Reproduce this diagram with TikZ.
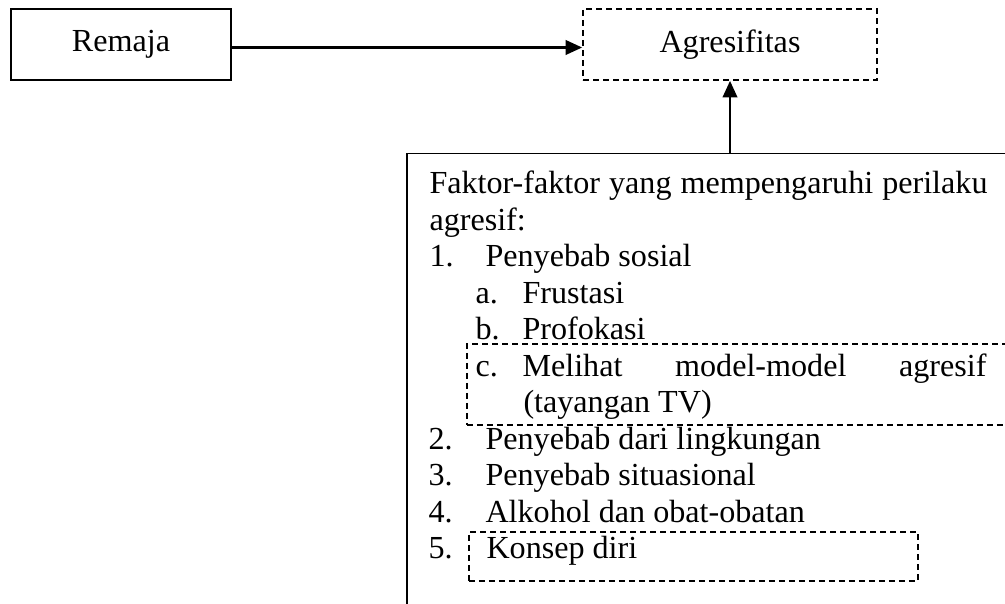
\documentclass[tikz,border=0pt]{standalone}
\usepackage{fontspec}
\setmainfont{Liberation Serif}
\usetikzlibrary{arrows.meta,positioning}

\begin{document}
\begin{tikzpicture}[x=0.4pt,y=-0.4pt,>={Triangle[length=6.6pt,width=5.8pt]},
	every node/.style={font=\fontsize{12.85}{15}\selectfont},
	box/.style={draw,line width=0.6pt,minimum height=28.4pt},
	dbox/.style={box,line width=0.7pt,dash pattern=on 2.4pt off 1.6pt},
	txt/.style={inner sep=0pt,anchor=base west},
	link/.style={->,line width=0.9pt}]
	\clip (0,0) rectangle (1005,604);
	\node[box,minimum width=88pt](remaja) at (121,44.5){Remaja};
	\node[dbox,minimum width=117.6pt](agresi) at (730,44.5){Agresifitas};
	\node[box,anchor=north west,minimum width=250pt,minimum height=195pt](faktor) at (406,153){};

	% kotak putus-putus di dalam daftar
	\node[dbox,anchor=north west,minimum width=222pt,minimum height=32.4pt](model) at (466,343){};
	\node[dbox,anchor=north west,minimum width=179.6pt,minimum height=19.6pt](konsep) at (468,531){};

	\node[txt](judul) at (429,194){\makebox[223.2pt][s]{Faktor-faktor yang mempengaruhi perilaku}};
	\node[txt](judulb) at (429,230.5){agresif:};
	\node[txt](n1) at (429,267){1.};
	\node[txt](t1) at (485,267){Penyebab sosial};
	\node[txt](na) at (475,303.5){a.};
	\node[txt](ta) at (522,303.5){Frustasi};
	\node[txt](nb) at (475,340){b.};
	\node[txt](tb) at (522,340){Profokasi};
	\node[txt](nc) at (475,376.5){c.};
	\node[txt](tc) at (522,376.5){\makebox[185.6pt][s]{Melihat model-model agresif}};
	\node[txt](tcb) at (523,413){(tayangan TV)};
	\node[txt](n2) at (428,449.5){2.};
	\node[txt](t2) at (485,449.5){Penyebab dari lingkungan};
	\node[txt](n3) at (428,486){3.};
	\node[txt](t3) at (485,486){Penyebab situasional};
	\node[txt](n4) at (428,522.5){4.};
	\node[txt](t4) at (485,522.5){Alkohol dan obat-obatan};
	\node[txt](n5) at (428,559){5.};
	\node[txt](t5) at (486,559){Konsep diri};

	\draw[link] ([yshift=-1.2pt]remaja.east) -- ([yshift=-1.2pt]agresi.west);
	\draw[link] (agresi.south |- faktor.north) -- (agresi.south);
\end{tikzpicture}
\end{document}
